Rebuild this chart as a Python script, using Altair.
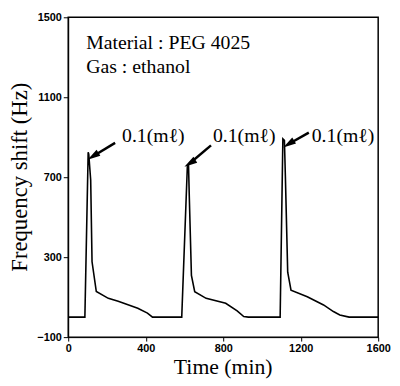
import altair as alt
import pandas as pd

# Frequency-shift trace (time in min, shift in Hz)
time_min = [0, 86, 103, 106, 116, 123, 145, 207, 258, 359, 409, 435,
            586, 615, 621, 625, 636, 653, 712, 813, 872, 906, 930,
            1094, 1108, 1116, 1121, 1133, 1150, 1234, 1318, 1369, 1402, 1450, 1600]
shift_hz = [0, 0, 825, 815, 686, 277, 128, 94, 79, 44, 20, 0,
            0, 755, 760, 604, 209, 127, 94, 69, 31, 3, 0,
            0, 892, 884, 703, 225, 135, 102, 61, 28, 11, 0, 0]

# Annotations
info_lines = ["Material : PEG 4025", "Gas : ethanol"]
info_t = [93, 93]
info_v = [1372, 1252]

label_text = ["0.1(m\u2113)", "0.1(m\u2113)", "0.1(m\u2113)"]
label_t = [278, 747, 1257]
label_v = [905, 905, 905]
arrow_tail_t = [242, 737, 1242]
arrow_tail_v = [872, 859, 923]
arrow_head_t = [128, 628, 1138]
arrow_head_v = [805, 770, 866]

x_ticks = [0, 400, 800, 1200, 1600]
y_ticks = [-100, 300, 700, 1100, 1500]
x_title = "Time (min)"
y_title = "Frequency shift (Hz)"

trace = pd.DataFrame({"t": time_min, "v": shift_hz})
info = pd.DataFrame({"text": info_lines, "t": info_t, "v": info_v})
labels = pd.DataFrame({"text": label_text, "t": label_t, "v": label_v})
arrows = pd.DataFrame({"t": arrow_tail_t, "v": arrow_tail_v,
                       "t2": arrow_head_t, "v2": arrow_head_v})

W, H = 314, 324
xs = alt.Scale(domain=[0, 1600], nice=False)
ys = alt.Scale(domain=[-100, 1500], nice=False)

common = dict(grid=False, format="d", title=None,
              labelFont="Liberation Sans", labelFontWeight="bold", labelFontSize=11,
              labelColor="black", tickColor="black", domainColor="black",
              labelFlush=False, labelPadding=2)

x_axis = alt.Axis(values=x_ticks, tickSize=4, **common)
y_axis = alt.Axis(values=y_ticks, tickSize=5, **common)

line = alt.Chart(trace).mark_line(color="black", strokeWidth=1.6).encode(
    x=alt.X("t:Q", scale=xs, axis=x_axis),
    y=alt.Y("v:Q", scale=ys, axis=y_axis),
)

info_txt = alt.Chart(info).mark_text(align="left", baseline="middle",
                                     font="Liberation Serif", fontSize=20,
                                     color="black").encode(
    x=alt.X("t:Q", scale=xs, axis=x_axis), y=alt.Y("v:Q", scale=ys, axis=y_axis),
    text="text:N")

lab_txt = alt.Chart(labels).mark_text(align="left", baseline="middle",
                                      font="Liberation Serif", fontSize=20,
                                      color="black").encode(
    x=alt.X("t:Q", scale=xs, axis=x_axis), y=alt.Y("v:Q", scale=ys, axis=y_axis),
    text="text:N")

arrow_shaft = alt.Chart(arrows).mark_rule(color="black", strokeWidth=2.5).encode(
    x=alt.X("t:Q", scale=xs, axis=x_axis), y=alt.Y("v:Q", scale=ys, axis=y_axis),
    x2="t2:Q", y2="v2:Q")

arrow_head = alt.Chart(arrows).mark_point(
    shape="M0,-1L0.55,1L-0.55,1Z", filled=True, color="black", size=170,
    angle=238, opacity=1).encode(
    x=alt.X("t2:Q", scale=xs, axis=x_axis), y=alt.Y("v2:Q", scale=ys, axis=y_axis))

xt = alt.Chart(pd.DataFrame({"text": [x_title]})).mark_text(
    font="Liberation Serif", fontSize=22, color="black",
    align="center", baseline="middle").encode(
    x=alt.value(W / 2), y=alt.value(H + 30), text="text:N")

yt = alt.Chart(pd.DataFrame({"text": [y_title]})).mark_text(
    font="Liberation Serif", fontSize=23, color="black", angle=270,
    align="center", baseline="middle").encode(
    x=alt.value(-49), y=alt.value(H / 2), text="text:N")

chart = alt.layer(line, arrow_shaft, arrow_head, info_txt, lab_txt, xt, yt).properties(
    width=W, height=H,
    autosize=alt.AutoSizeParams(type="none"),
    padding={"left": 61, "top": 7, "right": 14, "bottom": 40},
).configure_view(stroke="black", strokeWidth=1.5)

chart.save("out.html", embed_options={"renderer": "svg", "actions": False})
